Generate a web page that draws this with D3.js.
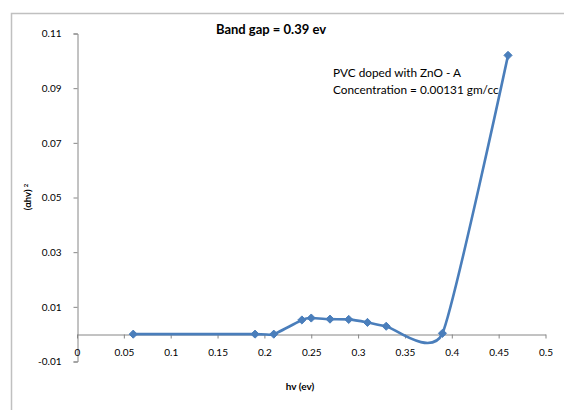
<!DOCTYPE html>
<html><head><meta charset="utf-8">
<script src="https://cdn.jsdelivr.net/npm/d3@7"></script>
<style>body{margin:0;background:#fff}svg{display:block}text{font-family:Lato,"Liberation Sans",sans-serif}</style>
</head><body><svg id="c" width="564" height="410"></svg>
<script>
const hv = [0.06, 0.19, 0.21, 0.24, 0.25, 0.27, 0.29, 0.31, 0.33, 0.39, 0.46];
const ahv2 = [0, 0, 0, 0.0052, 0.0059, 0.0055, 0.0054, 0.0043, 0.0029, 0.0003, 0.102];
const xTicks = [0, 0.05, 0.1, 0.15, 0.2, 0.25, 0.3, 0.35, 0.4, 0.45, 0.5];
const yTicks = [-0.01, 0.01, 0.03, 0.05, 0.07, 0.09, 0.11];
const title = "Band gap = 0.39 ev";
const note = ["PVC doped with ZnO - A", "Concentration = 0.00131 gm/cc"];

const svg = d3.select("#c");
svg.append("rect").attr("x",11.5).attr("y",13.5).attr("width",600).attr("height",450)
  .attr("fill","none").attr("stroke","#c0c0c0").attr("stroke-width",1.5);

const x = d3.scaleLinear().domain([0,0.5]).range([77,545.5]);
const y = d3.scaleLinear().domain([-0.01,0.11]).range([361.5,33.5]);
const axisColor = "#868686";

// y axis
const ya = svg.append("g").attr("transform","translate(77.5,0)")
  .call(d3.axisLeft(y).tickValues(yTicks).tickSize(4).tickPadding(12).tickFormat(d=>String(+d.toFixed(2))));
ya.select(".domain").attr("stroke",axisColor);
ya.selectAll(".tick line").attr("stroke",axisColor);
ya.selectAll("text").attr("font-size",10).attr("fill","#000");

// x axis at zero
const xa = svg.append("g").attr("transform",`translate(0,${Math.round(y(0))+0.5})`)
  .call(d3.axisBottom(x).tickValues(xTicks).tickSize(4).tickSizeOuter(0).tickPadding(10).tickFormat(d=>String(+d.toFixed(2))));
xa.select(".domain").attr("stroke",axisColor);
xa.selectAll(".tick line").attr("stroke",axisColor);
xa.selectAll("text").attr("font-size",10).attr("fill","#000");

const data = hv.map((v,i)=>[v, ahv2[i]]);
const line = d3.line().x(d=>x(d[0])).y(d=>y(d[1])).curve(d3.curveCardinal.tension(0.45));
svg.append("path").attr("d",line(data)).attr("fill","none").attr("stroke","#4a7ebb").attr("stroke-width",2.6);

svg.selectAll(".m").data(data).enter().append("path")
  .attr("transform",d=>`translate(${x(d[0])},${y(d[1])})`)
  .attr("d",d3.symbol(d3.symbolDiamond2,42)())
  .attr("fill","#4a7ebb").attr("stroke","#4a7ebb").attr("stroke-width",1);

svg.append("text").attr("x",271).attr("y",34).attr("text-anchor","middle")
  .attr("font-size",13).attr("font-weight","bold").attr("xml:space","preserve").text(title);

svg.append("g").selectAll("text").data(note).enter().append("text")
  .attr("x",333).attr("y",(d,i)=>77+i*17).attr("font-size",11.8).text(d=>d);

const yl = svg.append("text").attr("transform","translate(31,197) rotate(-90)")
  .attr("text-anchor","middle").attr("font-size",9.5).attr("font-weight","bold");
yl.append("tspan").text("(αhv)");
yl.append("tspan").attr("dx",2).attr("dy",-3).attr("font-size",6).text("2");

svg.append("text").attr("x",300).attr("y",390).attr("text-anchor","middle")
  .attr("font-size",10).attr("font-weight","bold").text("hv (ev)");
</script></body></html>
